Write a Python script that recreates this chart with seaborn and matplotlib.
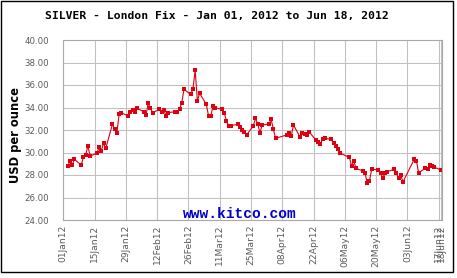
import matplotlib
matplotlib.use("Agg")
import matplotlib.pyplot as plt
from matplotlib.patches import Rectangle
import seaborn as sns
import pandas as pd

# ---- data ----
dates = [
    "01-03", "01-04", "01-05", "01-06", "01-09", "01-10", "01-11", "01-12", "01-13",
    "01-16", "01-17", "01-18", "01-19", "01-20", "01-23", "01-24", "01-25", "01-26",
    "01-27", "01-30", "01-31", "02-01", "02-02", "02-03", "02-06", "02-07", "02-08",
    "02-09", "02-10", "02-13", "02-14", "02-15", "02-16", "02-17", "02-20", "02-21",
    "02-22", "02-23", "02-24", "02-27", "02-28", "02-29", "03-01", "03-02", "03-05",
    "03-06", "03-07", "03-08", "03-09", "03-12", "03-13", "03-14", "03-15", "03-16",
    "03-19", "03-20", "03-21", "03-22", "03-23", "03-26", "03-27", "03-28", "03-29",
    "03-30", "04-02", "04-03", "04-04", "04-05", "04-10", "04-11", "04-12", "04-13",
    "04-16", "04-17", "04-18", "04-19", "04-20", "04-23", "04-24", "04-25", "04-26",
    "04-27", "04-30", "05-01", "05-02", "05-03", "05-04", "05-08", "05-09", "05-10",
    "05-11", "05-14", "05-15", "05-16", "05-17", "05-18", "05-21", "05-22", "05-23",
    "05-24", "05-25", "05-28", "05-29", "05-30", "05-31", "06-01", "06-06", "06-07",
    "06-08", "06-11", "06-12", "06-13", "06-14", "06-15", "06-18",
]
prices = [
    28.80, 29.24, 28.89, 29.39, 28.89, 29.57, 29.78, 30.58, 29.69,
    29.93, 30.46, 30.16, 30.82, 30.37, 32.53, 32.06, 31.76, 33.42,
    33.54, 33.24, 33.63, 33.78, 33.63, 33.93, 33.63, 33.33, 34.37,
    33.93, 33.54, 33.84, 33.63, 33.78, 33.24, 33.54, 33.63, 33.57,
    33.84, 34.40, 35.61, 35.17, 35.61, 37.33, 34.58, 35.26, 34.28,
    33.24, 33.24, 34.13, 33.96, 33.84, 33.54, 32.80, 32.39, 32.39,
    32.51, 32.30, 32.00, 31.85, 31.56, 32.36, 33.04, 32.53, 31.76,
    32.44, 32.53, 32.95, 32.06, 31.26, 31.56, 31.70, 31.47, 32.44,
    31.35, 31.70, 31.64, 31.56, 31.85, 31.10, 30.96, 30.78, 31.17,
    31.26, 31.17, 30.82, 30.55, 30.32, 29.93, 29.57, 28.80, 29.24,
    28.59, 28.36, 28.20, 27.26, 27.47, 28.53, 28.44, 28.15, 27.76,
    28.15, 28.30, 28.50, 28.20, 27.70, 28.03, 27.38, 29.39, 29.27,
    28.20, 28.59, 28.50, 28.89, 28.80, 28.70, 28.44,
]
x_tick_labels = ["01Jan12", "15Jan12", "29Jan12", "12Feb12", "26Feb12", "11Mar12",
                 "25Mar12", "08Apr12", "22Apr12", "06May12", "20May12", "03Jun12",
                 "17Jun12", "18Jun12"]
y_ticks = [24, 26, 28, 30, 32, 34, 36, 38, 40]
title = "SILVER - London Fix - Jan 01, 2012 to Jun 18, 2012"
y_label = "USD per ounce"
watermark = "www.kitco.com"

df = pd.DataFrame({"date": pd.to_datetime(["2012-" + d for d in dates]),
                   "price": prices})
tick_dates = pd.to_datetime(x_tick_labels, format="%d%b%y")

sns.set_style("white")
plt.rcParams["font.family"] = ["DejaVu Sans"]

W, H = 457, 278
fig = plt.figure(figsize=(W / 100, H / 100), dpi=100)
fig.patch.set_facecolor("white")
ax = fig.add_axes([63.3 / W, (H - 220) / H, (442 - 63.3) / W, 180 / H])

sns.lineplot(data=df, x="date", y="price", ax=ax, color="#dd0011",
             marker="s", markersize=2.9, markeredgewidth=0, linewidth=0.8,
             estimator=None)

ax.set_ylim(24, 40)
ax.set_xlim(pd.Timestamp("2012-01-01"), pd.Timestamp("2012-06-18") + pd.Timedelta(hours=11))
ax.set_yticks(y_ticks)
ax.set_yticklabels([f"{v:.2f}" for v in y_ticks], fontsize=6.2, color="#5a5a5a")
ax.set_xticks(tick_dates)
ax.set_xticklabels(x_tick_labels, rotation=90, fontsize=6.6, color="#5a5a5a")
ax.tick_params(axis="y", length=0, pad=10.5)
ax.tick_params(axis="x", length=0, pad=3.5)
ax.grid(True, color="#c0c0c0", linewidth=0.75)
for s in ax.spines.values():
    s.set_color("#a8a8a8")
    s.set_linewidth(0.8)
ax.set_xlabel("")
ax.set_ylabel(y_label, fontsize=8.3, fontweight="bold", color="black")
ax.yaxis.set_label_coords(-41 / (442 - 63.3), 0.47)

fig.text(217 / W, 1 - 16.5 / H, title, ha="center", va="center",
         fontsize=8.2, fontweight="bold", family="DejaVu Sans Mono", color="black")
ax.text(240 / W, 1 - 214.5 / H, watermark, transform=fig.transFigure, ha="center",
        va="center", fontsize=10.5, fontweight="bold", family="Liberation Mono",
        color="#0000cc")

fig.patches.append(Rectangle((0.6 / W, (H - 272) / H), 452 / W, 271.4 / H,
                             transform=fig.transFigure, fill=False,
                             edgecolor="black", linewidth=1.0))

fig.savefig("out.png", dpi=100)
